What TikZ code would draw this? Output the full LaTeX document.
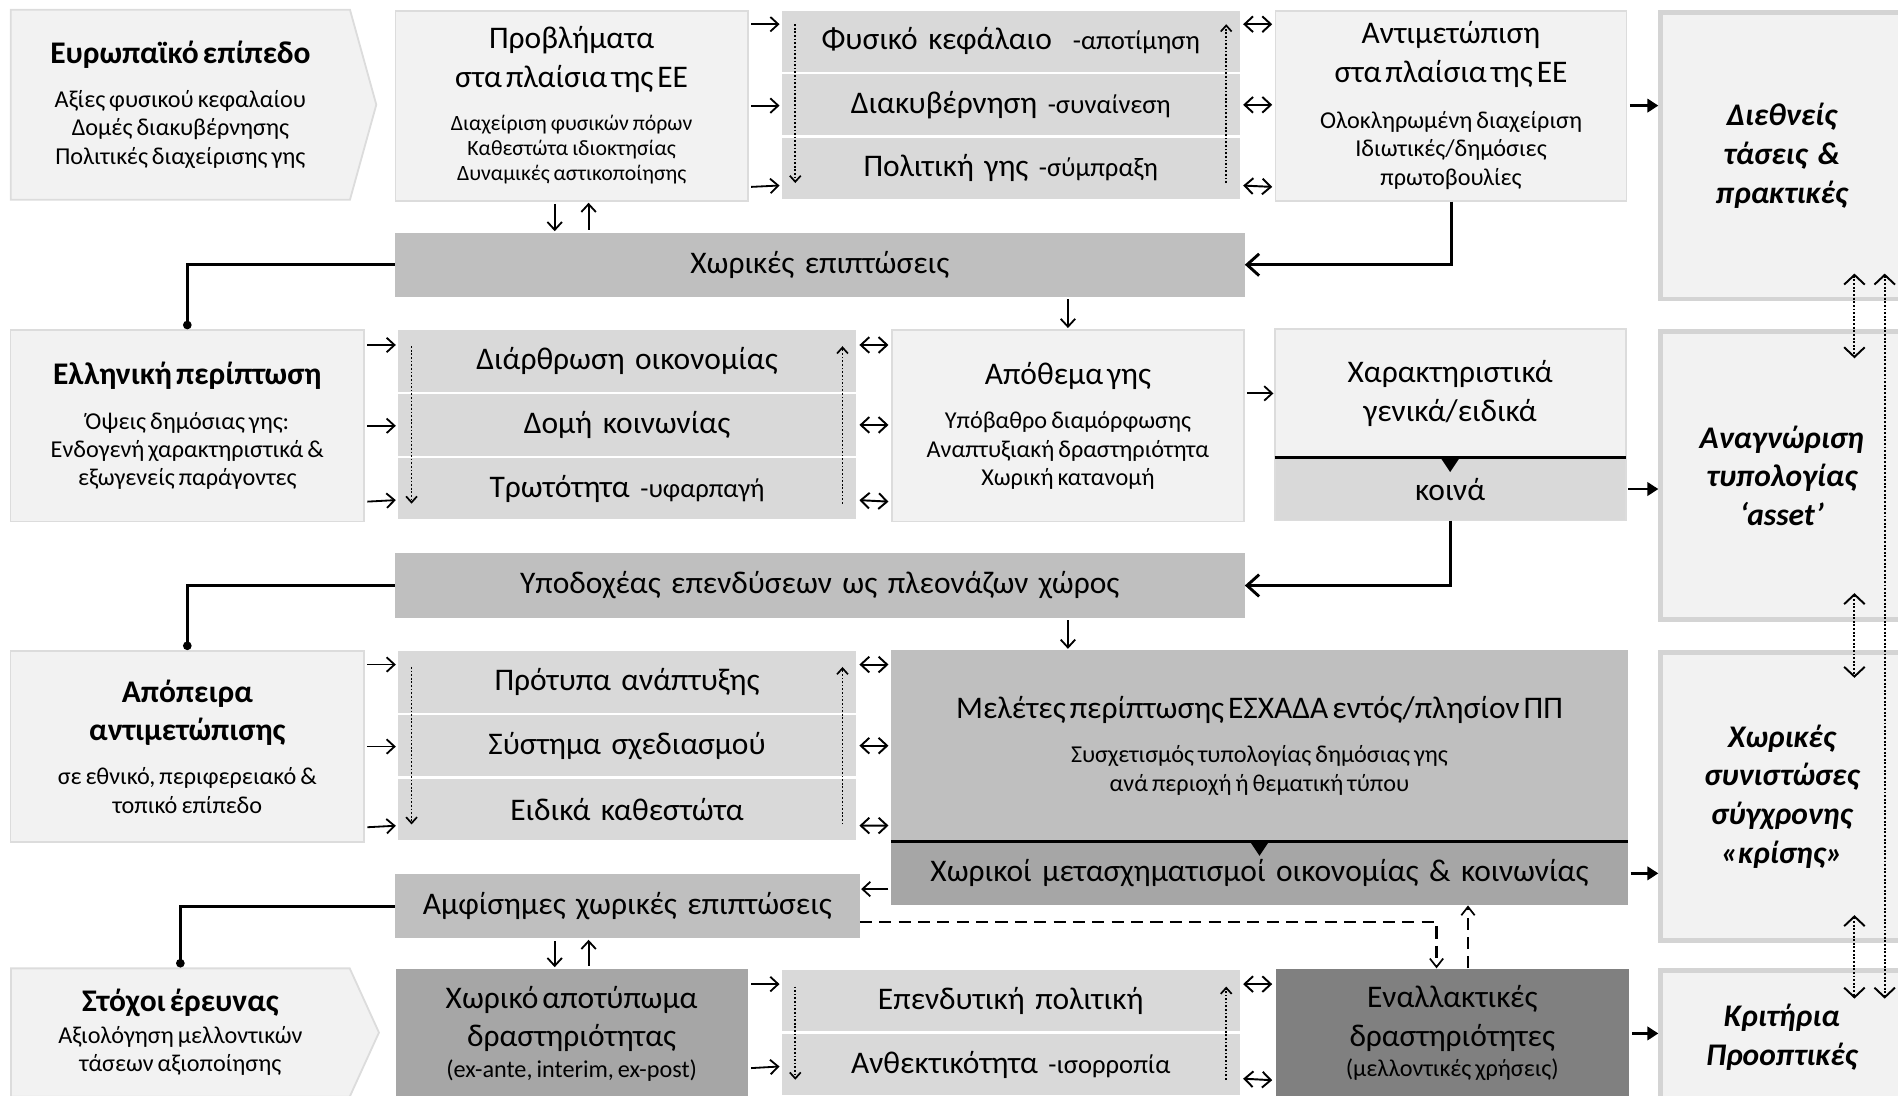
\documentclass[tikz,border=0pt]{standalone}
\usepackage{fontspec}
\setmainfont{Carlito}
\usetikzlibrary{positioning}
\usetikzlibrary{shapes.symbols, arrows.meta}

\definecolor{boxfill}{HTML}{F2F2F2}
\definecolor{boxline}{HTML}{DCDCDC}
\definecolor{rline}{HTML}{D4D4D4}
\definecolor{bandfill}{HTML}{D9D9D9}
\definecolor{barfill}{HTML}{BFBFBF}
\definecolor{midfill}{HTML}{A6A6A6}
\definecolor{darkfill}{HTML}{808080}

\newcommand{\bigtxt}{\fontsize{26}{32}\selectfont}
\newcommand{\subtxt}{\fontsize{20}{23.5}\selectfont}
\newcommand{\smalltxt}{\fontsize{18}{21}\selectfont}
\newcommand{\tagtxt}{\fontsize{22}{26}\selectfont}

\begin{document}
\begin{tikzpicture}[x=1pt, y=-1pt]
    \useasboundingbox (0,0) rectangle (1568,905);
    \clip (0,0) rectangle (1568,905);

    \tikzstyle{lbox} = [draw=boxline, fill=boxfill, line width=1.5pt, inner xsep=0pt, align=center, anchor=north west]
    \tikzstyle{pent} = [signal, signal to=east, draw=boxline, fill=boxfill, line width=1.5pt, text width=270pt, align=center]
    \tikzstyle{band} = [draw=white, fill=bandfill, line width=2pt, outer sep=0pt, inner xsep=0pt, text width=380pt, minimum height=52.4pt, align=center, font=\bigtxt]
    \tikzstyle{bar} = [fill=barfill, inner xsep=0pt, minimum height=53pt, align=center, font=\bigtxt, anchor=north west]
    \tikzstyle{rbox} = [draw=rline, fill=boxfill, line width=4pt, inner xsep=0pt, text width=200pt, align=center, font=\bfseries\itshape\fontsize{26}{32}\selectfont, anchor=north west]
    \tikzstyle{arr} = [-{Straight Barb[length=6.5pt,width=12pt]}, line width=1.5pt, shorten <=2pt, shorten >=1pt]
    \tikzstyle{dbl} = [{Straight Barb[length=7pt,width=13pt]}-{Straight Barb[length=7pt,width=13pt]}, line width=1.6pt, shorten <=2pt, shorten >=2pt]
    \tikzstyle{farr} = [-{Triangle[length=9pt,width=11pt]}, line width=2.2pt, shorten <=2pt]
    \tikzstyle{link} = [line width=2.4pt]
    \tikzstyle{dotarr} = [line width=1.4pt, dash pattern=on 1.4pt off 1.6pt, -{Straight Barb[length=5pt,width=9pt]}]
    \tikzstyle{dashlink} = [line width=2.4pt, dash pattern=on 10pt off 6pt]
    \tikzstyle{rdot} = [line width=1.6pt, dash pattern=on 1.6pt off 1.4pt, {Straight Barb[length=8pt,width=17pt]}-{Straight Barb[length=8pt,width=17pt]}]

    % row 1
    \node[pent, signal pointer angle=149, minimum width=302pt, minimum height=157pt] (eu) at (149,86.5) {{\bfseries\bigtxt Ευρωπαϊκό επίπεδο\par}\vspace{13pt}\subtxt Αξίες φυσικού κεφαλαίου\\ Δομές διακυβέρνησης\\ Πολιτικές διαχείρισης γης\par};
    \node[lbox, text width=291pt, minimum height=157pt] (prob) at (326,8) {\bigtxt Προβλήματα\\ στα πλαίσια της ΕΕ\par\vspace{14pt}\smalltxt Διαχείριση φυσικών πόρων\\ Καθεστώτα ιδιοκτησίας\\ Δυναμικές αστικοποίησης\par};
    \node[band, anchor=north west] (s11) at (645,8) {Φυσικό κεφάλαιο\ \ {\tagtxt -αποτίμηση}};
    \node[band, below=0pt of s11] (s12) {Διακυβέρνηση {\tagtxt -συναίνεση}};
    \node[band, below=0pt of s12] (s13) {Πολιτική γης {\tagtxt -σύμπραξη}};
    \node[lbox, text width=290pt, minimum height=157pt] (antim) at (1053,8) {\bigtxt Αντιμετώπιση\\ στα πλαίσια της ΕΕ\par\vspace{14.5pt}\subtxt Ολοκληρωμένη διαχείριση\\ Ιδιωτικές/δημόσιες\\ πρωτοβουλίες\par};
    \node[rbox, minimum height=237pt] (diethn) at (1370,8) {Διεθνείς\\ τάσεις \&\\ πρακτικές};

    \node[bar, text width=702pt] (bar1) at (326,192) {Χωρικές επιπτώσεις};

    % row 2
    \node[lbox, text width=292pt, minimum height=158pt] (ell) at (8,272) {{\bfseries\bigtxt Ελληνική περίπτωση\par}\vspace{13.5pt}\subtxt Όψεις δημόσιας γης:\\ Ενδογενή χαρακτηριστικά \&\\ εξωγενείς παράγοντες\par};
    \node[band, anchor=north west, minimum height=52.7pt] (s21) at (328,272) {Διάρθρωση οικονομίας};
    \node[band, below=0pt of s21, minimum height=52.7pt] (s22) {Δομή κοινωνίας};
    \node[band, below=0pt of s22, minimum height=52.7pt] (s23) {Τρωτότητα {\tagtxt -υφαρπαγή}};
    \node[lbox, text width=291pt, minimum height=158pt] (apoth) at (736,272) {\bigtxt Απόθεμα γης\par\vspace{13.5pt}\subtxt Υπόβαθρο διαμόρφωσης\\ Αναπτυξιακή δραστηριότητα\\ Χωρική κατανομή\par};
    \node[lbox, text width=290pt, minimum height=106pt, outer sep=0pt] (xarA) at (1053,272) {\bigtxt Χαρακτηριστικά\\ γενικά/ειδικά\par};
    \node[lbox, fill=bandfill, text width=290pt, minimum height=52pt, below=0pt of xarA, outer sep=0pt] (kin) {\bigtxt κοινά};
    \node[rbox, minimum height=238pt] (anagn) at (1370,272) {Αναγνώριση\\ τυπολογίας\\ ‘asset’};

    \node[bar, text width=702pt] (bar2) at (326,457) {Υποδοχέας επενδύσεων ως πλεονάζων χώρος};

    % row 3
    \node[lbox, text width=292pt, minimum height=158pt] (apop) at (8,537) {{\bfseries\bigtxt Απόπειρα\\ αντιμετώπισης\par}\vspace{13pt}\subtxt σε εθνικό, περιφερειακό \&\\ τοπικό επίπεδο\par};
    \node[band, anchor=north west, minimum height=52.7pt] (s31) at (328,537) {Πρότυπα ανάπτυξης};
    \node[band, below=0pt of s31, minimum height=52.7pt] (s32) {Σύστημα σχεδιασμού};
    \node[band, below=0pt of s32, minimum height=52.7pt] (s33) {Ειδικά καθεστώτα};
    \node[lbox, draw=none, fill=barfill, text width=609pt, minimum height=158pt, outer sep=0pt] (mel) at (736,537) {\bigtxt Μελέτες περίπτωσης ΕΣΧΑΔΑ εντός/πλησίον ΠΠ\par\vspace{13.5pt}\subtxt Συσχετισμός τυπολογίας δημόσιας γης\\ ανά περιοχή ή θεματική τύπου\par};
    \node[bar, fill=midfill, text width=609pt, below=0pt of mel, outer sep=0pt] (melB) {Χωρικοί μετασχηματισμοί οικονομίας \& κοινωνίας};
    \node[rbox, minimum height=238pt] (xorikes) at (1370,537) {Χωρικές\\ συνιστώσες\\ σύγχρονης\\ «κρίσης»};

    \node[bar, text width=384pt] (bar3) at (326,722) {Αμφίσημες χωρικές επιπτώσεις};

    % row 4
    \node[pent, signal pointer angle=131, minimum width=304pt, minimum height=106pt] (stox) at (149,853) {{\bfseries\bigtxt Στόχοι έρευνας\par}\vspace{2.5pt}\subtxt Αξιολόγηση μελλοντικών\\ τάσεων αξιοποίησης\par};
    \node[lbox, draw=none, fill=midfill, text width=291pt, minimum height=106pt] (xoriko) at (326,800) {\bigtxt Χωρικό αποτύπωμα\\ δραστηριότητας\par\vspace{1.5pt}\subtxt (ex-ante, interim, ex-post)\par};
    \node[band, anchor=north west, minimum height=53pt] (s41) at (645,800) {Επενδυτική πολιτική};
    \node[band, below=0pt of s41, minimum height=53pt] (s42) {Ανθεκτικότητα {\tagtxt -ισορροπία}};
    \node[lbox, draw=none, fill=darkfill, text width=292pt, minimum height=106pt] (enall) at (1053,800) {\bigtxt Εναλλακτικές\\ δραστηριότητες\par\vspace{1.5pt}\subtxt (μελλοντικές χρήσεις)\par};
    \node[rbox, minimum height=110pt] (krit) at (1370,800) {Κριτήρια\\ Προοπτικές};

    % markers under the split boxes
    \draw[line width=2.5pt] (xarA.south west) -- (xarA.south east);
    \fill ([xshift=-8pt]xarA.south) -- ([xshift=8pt]xarA.south) -- ([yshift=-12pt]xarA.south) -- cycle;
    \draw[line width=2.5pt] (mel.south west) -- (mel.south east);
    \fill ([xshift=-8pt]mel.south) -- ([xshift=8pt]mel.south) -- ([yshift=-12pt]mel.south) -- cycle;

    % row 1 connectors
    \draw[arr] ([yshift=-12pt]prob.north east) -- ([yshift=-12pt]s11.north west);
    \draw[arr] (prob.east) -- (prob.east -| s12.west);
    \draw[arr] ([yshift=12pt]prob.south east) -- ([yshift=12pt]s13.south west);
    \draw[dbl] ([yshift=-12pt]s11.north east) -- ([yshift=-12pt]antim.north west);
    \draw[dbl] (s12.east) -- (s12.east -| antim.west);
    \draw[dbl] ([yshift=12pt]s13.south east) -- ([yshift=12pt]antim.south west);
    \draw[dotarr] ([xshift=12pt,yshift=-12pt]s11.north west) -- ([xshift=12pt,yshift=14pt]s13.south west);
    \draw[dotarr] ([xshift=-12pt,yshift=14pt]s13.south east) -- ([xshift=-12pt,yshift=-12pt]s11.north east);
    \draw[farr] (antim.east) -- (antim.east -| diethn.west);
    \coordinate (u1) at ([xshift=-14pt]prob.south);
    \coordinate (u2) at ([xshift=14pt]prob.south);
    \draw[arr] (u1) -- (u1 |- bar1.north);
    \draw[arr] (u2 |- bar1.north) -- (u2);
    \draw[link, -{Straight Barb[length=10pt,width=18pt]}] (antim.south) |- (bar1.east);
    \draw[link, -{Circle[length=7pt]}] (bar1.west) -| (ell.north);
    \draw[arr] (apoth.north |- bar1.south) -- (apoth.north);

    % row 2 connectors
    \draw[arr] ([yshift=-13pt]ell.north east) -- ([yshift=-13pt]s21.north west);
    \draw[arr] (ell.east) -- (ell.east -| s22.west);
    \draw[arr] ([yshift=17pt]ell.south east) -- ([yshift=17pt]s23.south west);
    \draw[dbl] ([yshift=-13pt]s21.north east) -- ([yshift=-13pt]apoth.north west);
    \draw[dbl] (s22.east) -- (s22.east -| apoth.west);
    \draw[dbl] ([yshift=17pt]s23.south east) -- ([yshift=17pt]apoth.south west);
    \draw[dotarr] ([xshift=12pt,yshift=-14pt]s21.north west) -- ([xshift=12pt,yshift=14pt]s23.south west);
    \draw[dotarr] ([xshift=-12pt,yshift=14pt]s23.south east) -- ([xshift=-12pt,yshift=-14pt]s21.north east);
    \draw[arr] (xarA.west -| apoth.east) -- (xarA.west);
    \draw[farr] (kin.east) -- (kin.east -| anagn.west);
    \draw[link, -{Straight Barb[length=10pt,width=18pt]}] (kin.south) |- (bar2.east);
    \draw[link, -{Circle[length=7pt]}] (bar2.west) -| (apop.north);
    \draw[arr] (apoth.south |- bar2.south) -- (apoth.south |- mel.north);

    % row 3 connectors
    \draw[arr] ([yshift=-12pt]apop.north east) -- ([yshift=-12pt]s31.north west);
    \draw[arr] (apop.east) -- (apop.east -| s32.west);
    \draw[arr] ([yshift=13pt]apop.south east) -- ([yshift=13pt]s33.south west);
    \draw[dbl] ([yshift=-12pt]s31.north east) -- ([yshift=-12pt]mel.north west);
    \draw[dbl] (s32.east) -- (s32.east -| mel.west);
    \draw[dbl] ([yshift=13pt]s33.south east) -- ([yshift=13pt]mel.south west);
    \draw[dotarr] ([xshift=12pt,yshift=-14pt]s31.north west) -- ([xshift=12pt,yshift=14pt]s33.south west);
    \draw[dotarr] ([xshift=-12pt,yshift=14pt]s33.south east) -- ([xshift=-12pt,yshift=-14pt]s31.north east);
    \draw[farr] (melB.east) -- (melB.east -| xorikes.west);
    \coordinate (mA) at ([yshift=-13pt]melB.west);
    \draw[arr] (mA) -- (mA -| bar3.east);
    \draw[link, -{Circle[length=7pt]}] (bar3.west) -| (stox.north);
    \coordinate (v1) at ([xshift=-14pt]xoriko.north);
    \coordinate (v2) at ([xshift=14pt]xoriko.north);
    \draw[arr] (v1 |- bar3.south) -- (v1);
    \draw[arr] (v2) -- (v2 |- bar3.south);
    \coordinate (dA) at ([yshift=-13pt]bar3.east);
    \coordinate (dB) at ([xshift=-13pt]enall.north);
    \coordinate (dC) at ([xshift=13pt]enall.north);
    \draw[dashlink, -{Straight Barb[length=7pt,width=11pt, line width=1.4pt]}] (dA) -| (dB);
    \draw[dashlink, -{Straight Barb[length=7pt,width=11pt, line width=1.4pt]}] (dC) -- (dC |- melB.south);

    % row 4 connectors
    \draw[arr] ([yshift=-13pt]xoriko.north east) -- ([yshift=-13pt]s41.north west);
    \draw[arr] ([yshift=25pt]xoriko.south east) -- ([yshift=25pt]s42.south west);
    \draw[dbl] ([yshift=-13pt]s41.north east) -- ([yshift=-13pt]enall.north west);
    \draw[dbl] ([yshift=15pt]s42.south east) -- ([yshift=15pt]enall.south west);
    \draw[dotarr] ([xshift=12pt,yshift=-15pt]s41.north west) -- ([xshift=12pt,yshift=14pt]s42.south west);
    \draw[dotarr] ([xshift=-12pt,yshift=14pt]s42.south east) -- ([xshift=-12pt,yshift=-15pt]s41.north east);
    \draw[farr] (enall.east) -- (enall.east -| krit.west);

    % right column links
    \draw[rdot] ([xshift=60pt,yshift=23pt]diethn.south) -- ([xshift=60pt,yshift=-24pt]anagn.north);
    \draw[rdot] ([xshift=60pt,yshift=24pt]anagn.south) -- ([xshift=60pt,yshift=-23pt]xorikes.north);
    \draw[rdot] ([xshift=60pt,yshift=23pt]xorikes.south) -- ([xshift=60pt,yshift=-25pt]krit.north);
    \draw[rdot] ([xshift=85pt,yshift=23pt]diethn.south) -- ([xshift=85pt,yshift=-25pt]krit.north);
\end{tikzpicture}
\end{document}
